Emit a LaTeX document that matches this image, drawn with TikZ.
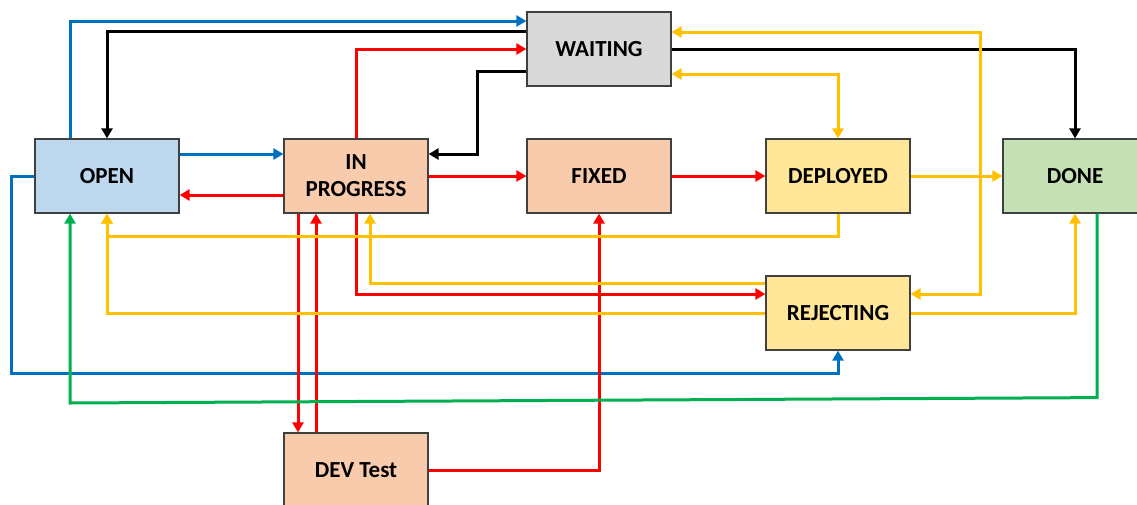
\documentclass[tikz,border=0pt]{standalone}
\usepackage{fontspec}
\setmainfont{Carlito}
\usetikzlibrary{arrows.meta}
\definecolor{lnblue}{HTML}{0070C0}
\definecolor{lnred}{HTML}{FF0000}
\definecolor{lnyellow}{HTML}{FFC000}
\definecolor{lngreen}{HTML}{00B050}
\definecolor{fopen}{HTML}{BDD7EE}
\definecolor{fwork}{HTML}{F8CBAD}
\definecolor{fwait}{HTML}{D9D9D9}
\definecolor{fdeploy}{HTML}{FFE699}
\definecolor{fdone}{HTML}{C5E0B4}
\begin{document}
\begin{tikzpicture}[x=1pt,y=-1pt,
  state/.style={draw=black!75, line width=1.2pt, minimum width=144pt,
    minimum height=74pt, inner sep=0pt, align=center,
    font=\fontsize{23}{27}\selectfont\bfseries},
  tip/.tip={Triangle[length=10pt,width=11pt]},
  flow/.style={line width=3pt, -tip},
  biflow/.style={line width=3pt, tip-tip},
]
\useasboundingbox (0,0) rectangle (1137,504);

% states
\node[state, fill=fopen]   (open)  at (107,176) {OPEN};
\node[state, fill=fwork]   (ip)    at (356,176) {IN\\PROGRESS};
\node[state, fill=fwait]   (wait)  at (599,49)  {WAITING};
\node[state, fill=fwork]   (fixed) at (599,176) {FIXED};
\node[state, fill=fdeploy] (dep)   at (838,176) {DEPLOYED};
\node[state, fill=fdone]   (done)  at (1075,176) {DONE};
\node[state, fill=fdeploy] (rej)   at (838,313) {REJECTING};
\node[state, fill=fwork]   (dev)   at (356,470) {DEV Test};

% blue transitions
\draw[flow, lnblue] ([xshift=-37pt]open.north) |- ([yshift=28pt]wait.west);
\draw[flow, lnblue] ([yshift=22pt]open.east) -- ([yshift=22pt]ip.west);
\draw[flow, lnblue] (open.west) -- ++(-23,0) -- ++(0,197) -| (rej.south);

% black transitions
\draw[flow, black] ([yshift=18pt]wait.west) -| (open.north);
\draw[flow, black] ([yshift=-22pt]wait.west) -- ++(-49,0) |- ([yshift=22pt]ip.east);
\draw[flow, black] (wait.east) -| (done.north);

% red transitions
\draw[flow, lnred] ([yshift=-19pt]ip.west) -- ([yshift=-19pt]open.east);
\draw[flow, lnred] (ip.north) |- (wait.west);
\draw[flow, lnred] (ip.east) -- (fixed.west);
\draw[flow, lnred] (fixed.east) -- (dep.west);
\draw[flow, lnred] (ip.south) |- ([yshift=19pt]rej.west);
\draw[flow, lnred] ([xshift=-58pt]ip.south) -- ([xshift=-58pt]dev.north);
\draw[flow, lnred] ([xshift=-40pt]dev.north) -- ([xshift=-40pt]ip.south);
\draw[flow, lnred] (dev.east) -| (fixed.south);

% yellow transitions
\draw[flow, lnyellow] (dep.east) -- (done.west);
\draw[biflow, lnyellow] ([yshift=17pt]wait.east) -- ++(309,0) |- ([yshift=19pt]rej.east);
\draw[biflow, lnyellow] ([yshift=-25pt]wait.east) -| (dep.north);
\draw[flow, lnyellow] (dep.south) -- ++(0,23) -| (open.south);
\draw[flow, lnyellow] (rej.west) -| (open.south);
\draw[flow, lnyellow] ([yshift=30pt]rej.west) -| ([xshift=14pt]ip.south);
\draw[flow, lnyellow] (rej.east) -| (done.south);

% green transition
\coordinate (gturn) at (70,403);
\draw[flow, lngreen] ([xshift=22pt]done.south) -- ++(0,184) -- (gturn) -- ([xshift=-37pt]open.south);
\end{tikzpicture}
\end{document}
